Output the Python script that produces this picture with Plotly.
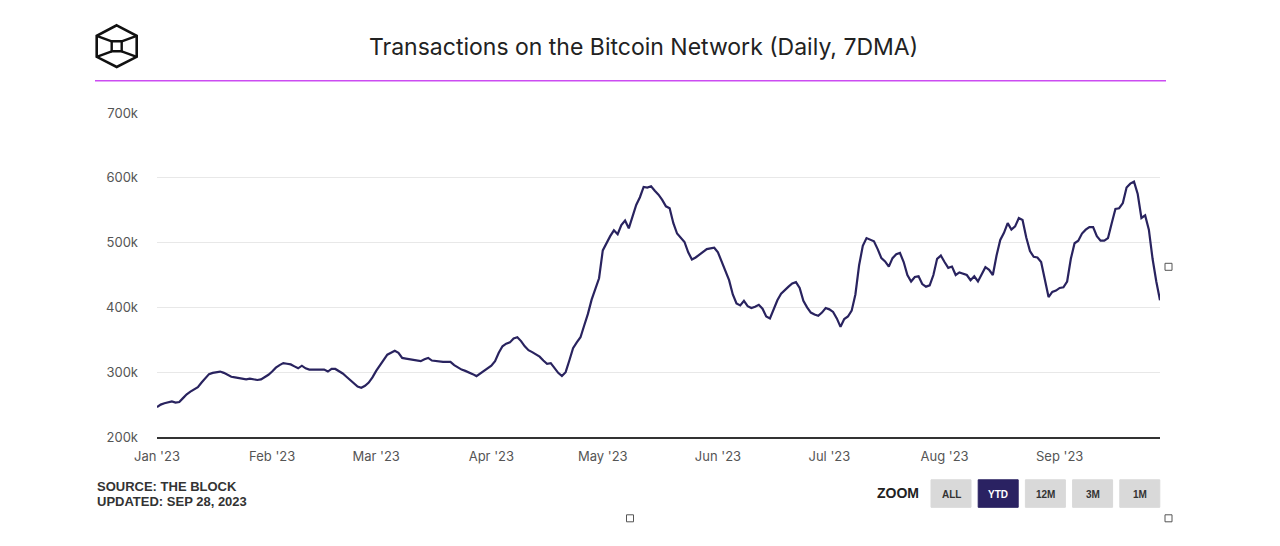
import plotly.graph_objects as go
import pandas as pd

# ---- data (daily 7DMA, thousands of transactions) ----
start_date = "2023-01-01"
tx_k = [
    246, 250, 252, 254, 255, 253, 254, 260, 266, 270,
    273, 277, 284, 291, 297, 299, 300, 301, 299, 296,
    293, 292, 291, 289, 289, 290, 289, 288, 289, 292,
    296, 301, 307, 311, 314, 313, 312, 309, 306, 310,
    306, 304, 304, 304, 304, 304, 301, 305, 305, 302,
    298, 293, 288, 283, 278, 276, 279, 284, 292, 302,
    311, 320, 327, 330, 333, 330, 322, 321, 320, 319,
    318, 317, 320, 322, 318, 317, 316, 316, 316, 316,
    311, 307, 304, 302, 300, 297, 294, 298, 303, 307,
    310, 317, 330, 340, 344, 346, 352, 354, 348, 340,
    334, 331, 328, 324, 318, 313, 314, 306, 299, 294,
    300, 318, 337, 346, 354, 372, 390, 412, 430, 445,
    488, 500, 510, 519, 513, 527, 534, 522, 540, 558,
    570, 586, 585, 587, 580, 574, 566, 556, 553, 530,
    514, 508, 501, 485, 474, 477, 481, 486, 490, 491,
    492, 485, 470, 458, 442, 420, 406, 403, 410, 402,
    399, 401, 404, 398, 386, 383, 396, 411, 421, 427,
    432, 437, 439, 430, 410, 400, 392, 389, 387, 392,
    399, 397, 393, 383, 370, 382, 386, 395, 420, 465,
    495, 507, 505, 502, 490, 476, 471, 463, 476, 482,
    484, 470, 450, 440, 447, 448, 436, 432, 434, 450,
    475, 480, 470, 461, 463, 450, 454, 452, 450, 442,
    448, 440, 452, 462, 458, 450, 480, 504, 515, 530,
    520, 525, 538, 535, 508, 487, 478, 477, 470, 440,
    416, 424, 426, 430, 431, 440, 475, 499, 503, 514,
    520, 524, 524, 510, 503, 503, 507, 530, 552, 553,
    561, 585, 591, 594, 575, 538, 542, 520, 475, 440,
    411,
]
month_ticks = ["2023-01-01", "2023-02-01", "2023-03-01", "2023-04-01", "2023-05-01",
               "2023-06-01", "2023-07-01", "2023-08-01", "2023-09-01"]
month_labels = ["Jan '23", "Feb '23", "Mar '23", "Apr '23", "May '23",
                "Jun '23", "Jul '23", "Aug '23", "Sep '23"]
y_ticks = [200000, 300000, 400000, 500000, 600000, 700000]
y_labels = ["200k", "300k", "400k", "500k", "600k", "700k"]
zoom_buttons = ["ALL", "YTD", "12M", "3M", "1M"]
title_text = "Transactions on the Bitcoin Network (Daily, 7DMA)"
source_lines = ["SOURCE: THE BLOCK", "UPDATED: SEP 28, 2023"]

dates = pd.date_range(start_date, periods=len(tx_k), freq="D")
values = [v * 1000 for v in tx_k]

W, H = 1280, 546
OFF = 8  # page body margin offset
# plot area in page pixels: x 157..1160, y 112.7..436.7
L = 157 - OFF
R = W - (1160 - OFF)
T = 112.7 - OFF
B = H - (436.7 - OFF)
PW = W - L - R
PH = H - T - B

fig = go.Figure()
fig.add_trace(go.Scatter(
    x=dates, y=values, mode="lines",
    line=dict(color="#29235f", width=2.2),
    hovertemplate="%{x|%b %d, %Y}: %{y:,.0f}<extra></extra>",
    showlegend=False,
))


def px(x):
    return (x - OFF - L) / PW


def py(y):
    return 1 - (y - OFF - T) / PH


shapes = []
annotations = []

# header magenta rule
shapes.append(dict(type="line", xref="paper", yref="paper",
                   x0=px(95), x1=px(1166), y0=py(80.5), y1=py(80.5),
                   line=dict(color="#cc4cf2", width=1.6)))

# logo (hexagon cube)
hx = [(116.7, 25), (136.7, 35.5), (136.7, 56.5), (116.7, 66.7), (96.7, 56.5), (96.7, 35.5)]
path = "M " + " L ".join(f"{px(x)},{py(y)}" for x, y in hx) + " Z"
shapes.append(dict(type="path", xref="paper", yref="paper", path=path,
                   line=dict(color="#111111", width=2.6)))
sq = (111.7, 41, 121.7, 51)
shapes.append(dict(type="rect", xref="paper", yref="paper",
                   x0=px(sq[0]), x1=px(sq[2]), y0=py(sq[1]), y1=py(sq[3]),
                   line=dict(color="#111111", width=2.4)))
for (ax, ay), (bx, by) in [((96.7, 35.5), (sq[0], sq[1])), ((136.7, 35.5), (sq[2], sq[1])),
                           ((96.7, 56.5), (sq[0], sq[3])), ((136.7, 56.5), (sq[2], sq[3]))]:
    shapes.append(dict(type="line", xref="paper", yref="paper",
                       x0=px(ax), y0=py(ay), x1=px(bx), y1=py(by),
                       line=dict(color="#111111", width=2.4)))

# title
annotations.append(dict(text=title_text, xref="paper", yref="paper",
                        x=px(643.5), y=py(47), xanchor="center", yanchor="middle",
                        showarrow=False, font=dict(family="Inter, sans-serif", size=23, color="#222222")))

# source lines
for i, s in enumerate(source_lines):
    annotations.append(dict(text=f"<b>{s}</b>", xref="paper", yref="paper",
                            x=px(95), y=py(486 + i * 15.5), xanchor="left", yanchor="middle",
                            showarrow=False,
                            font=dict(family="Liberation Sans, Arial, sans-serif", size=13, color="#333333")))

# zoom label and buttons
annotations.append(dict(text="<b>ZOOM</b>", xref="paper", yref="paper",
                        x=px(921), y=py(492.5), xanchor="right", yanchor="middle",
                        showarrow=False,
                        font=dict(family="Liberation Sans, Arial, sans-serif", size=14, color="#222222")))
bx0 = 931
bw = 40
gap = 7.2
for i, lab in enumerate(zoom_buttons):
    x0 = bx0 + i * (bw + gap)
    active = (lab == "YTD")
    shapes.append(dict(type="rect", xref="paper", yref="paper",
                       x0=px(x0), x1=px(x0 + bw), y0=py(479.5), y1=py(507),
                       fillcolor="#2a2262" if active else "#d9d9d9",
                       line=dict(color="#2a2262" if active else "#d9d9d9", width=1)))
    annotations.append(dict(text=f"<b>{lab}</b>", xref="paper", yref="paper",
                            x=px(x0 + bw / 2), y=py(494), xanchor="center", yanchor="middle",
                            showarrow=False,
                            font=dict(family="Liberation Sans, Arial, sans-serif", size=10,
                                      color="#ffffff" if active else "#333333")))

# small handle squares
for cx, cy in [(630, 518), (1168.5, 518), (1168.5, 266.5)]:
    shapes.append(dict(type="rect", xref="paper", yref="paper",
                       x0=px(cx - 3.5), x1=px(cx + 3.5), y0=py(cy - 3.5), y1=py(cy + 3.5),
                       fillcolor="#ffffff", line=dict(color="#555555", width=1)))

fig.update_layout(
    width=W, height=H,
    margin=dict(l=L, r=R, t=T, b=B, autoexpand=False),
    paper_bgcolor="#ffffff", plot_bgcolor="#ffffff",
    shapes=shapes, annotations=annotations,
    showlegend=False,
    xaxis=dict(
        type="date", range=[dates[0], dates[-1]],
        tickvals=month_ticks, ticktext=month_labels,
        showgrid=False, zeroline=False,
        showline=True, linecolor="#333333", linewidth=1.5,
        ticks="", ticklabelstandoff=7,
        tickfont=dict(family="Inter, sans-serif", size=13, color="#555555"),
        fixedrange=True,
    ),
    yaxis=dict(
        range=[200000, 700000],
        tickvals=y_ticks, ticktext=y_labels,
        showgrid=True, gridcolor="#e8e8e8", gridwidth=1,
        zeroline=False, showline=False, ticks="",
        ticklabelstandoff=18,
        tickfont=dict(family="Inter, sans-serif", size=13, color="#555555"),
        fixedrange=True,
    ),
)

fig.write_html("out.html")
